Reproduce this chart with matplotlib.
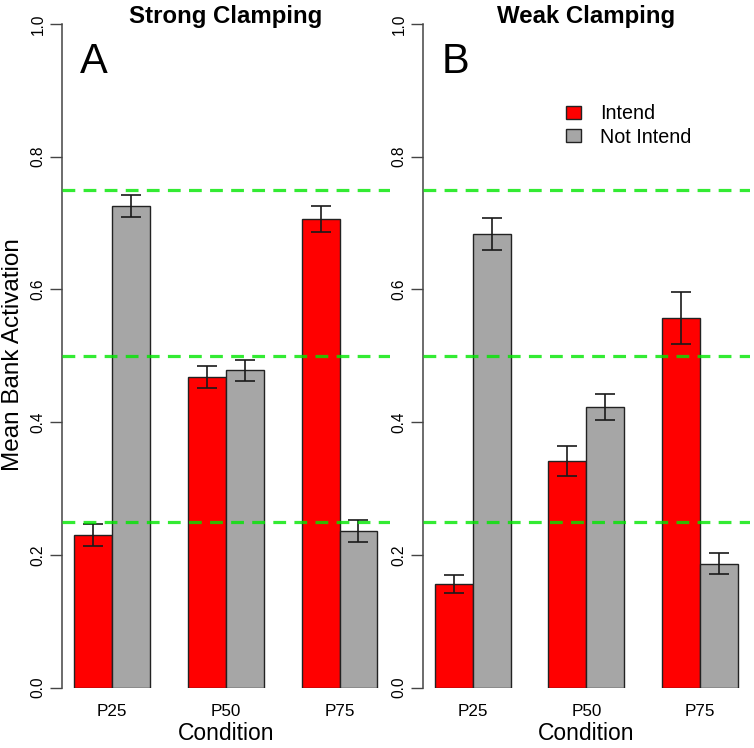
import matplotlib
matplotlib.use("Agg")
import matplotlib.pyplot as plt
from matplotlib.patches import Patch

plt.rcParams['font.family'] = ['Liberation Sans', 'DejaVu Sans']

conditions = ["P25", "P50", "P75"]
series = ["Intend", "Not Intend"]
colors = ["#ff0000", "#a6a6a6"]

# mean bank activation and error, per panel
strong_intend = [0.230, 0.468, 0.706]
strong_not = [0.726, 0.478, 0.236]
strong_intend_err = [0.0165, 0.016, 0.020]
strong_not_err = [0.017, 0.016, 0.016]

weak_intend = [0.156, 0.342, 0.557]
weak_not = [0.684, 0.423, 0.187]
weak_intend_err = [0.0135, 0.0225, 0.0385]
weak_not_err = [0.024, 0.019, 0.0155]

ref_lines = [0.25, 0.50, 0.75]
titles = ["Strong Clamping", "Weak Clamping"]
letters = ["A", "B"]

W, H = 754, 748
fig = plt.figure(figsize=(W / 100, H / 100), dpi=100)

y0_px, y1_px = 687.7, 24.0   # pixel rows of 0.0 and 1.0
panels = [(61.7, 389.6), (422.7, 750.0)]

data = [(strong_intend, strong_not, strong_intend_err, strong_not_err),
        (weak_intend, weak_not, weak_intend_err, weak_not_err)]

for p, (left_px, right_px) in enumerate(panels):
    ax = fig.add_axes([left_px / W, 1 - y0_px / H,
                       (right_px - left_px) / W, (y0_px - y1_px) / H])
    a, b, ea, eb = data[p]
    # R barplot style: groups of two unit bars, one unit gap
    xa = [1 + 3 * i for i in range(len(conditions))]
    xb = [x + 1 for x in xa]
    ax.bar(xa, a, width=1, align='edge', color=colors[0], edgecolor='#222222', linewidth=1.0, zorder=2)
    ax.bar(xb, b, width=1, align='edge', color=colors[1], edgecolor='#222222', linewidth=1.0, zorder=2)
    ax.errorbar([x + 0.5 for x in xa], a, yerr=ea, fmt='none', ecolor='#1a1a1a',
                elinewidth=1.2, capsize=7, capthick=1.2, zorder=3)
    ax.errorbar([x + 0.5 for x in xb], b, yerr=eb, fmt='none', ecolor='#1a1a1a',
                elinewidth=1.2, capsize=7, capthick=1.2, zorder=3)
    for r in ref_lines:
        ax.axhline(r, color='#00e600', alpha=0.8, lw=2.3, dashes=(4, 2.6), zorder=4)

    ax.set_xlim(0.68, 9.32)
    ax.set_ylim(0, 1)
    for s in ['top', 'right', 'bottom']:
        ax.spines[s].set_visible(False)
    ax.spines['left'].set_bounds(0, 1)
    ax.spines['left'].set_color('#444444')
    ax.spines['left'].set_linewidth(1.1)

    ax.set_yticks([0, 0.2, 0.4, 0.6, 0.8, 1.0])
    ax.set_yticklabels(["0.0", "0.2", "0.4", "0.6", "0.8", "1.0"])
    ax.tick_params(axis='y', length=8.6, width=1.0, color='#444444', labelsize=11.2,
                   labelrotation=90, pad=3)
    for t in ax.get_yticklabels():
        t.set_va('center')

    ax.set_xticks([x + 1 for x in xa])
    ax.set_xticklabels(conditions)
    ax.tick_params(axis='x', length=0, labelsize=12.3, pad=12)

    ax.set_xlabel("Condition", fontsize=16.5)
    ax.xaxis.set_label_coords(0.5, -0.052)

    ax.text(0.5 * (left_px + right_px) / W, 1 - 23 / H, titles[p], transform=fig.transFigure,
            ha='center', va='baseline', fontsize=17.3, fontweight='bold')
    ax.text((left_px + 18.5) / W, 1 - 73 / H, letters[p], transform=fig.transFigure,
            ha='left', va='baseline', fontsize=30)

    if p == 1:
        handles = [Patch(facecolor=c, edgecolor='#222222', linewidth=1.0) for c in colors]
        ax.legend(handles, series, loc='upper left', bbox_to_anchor=(0.438, 0.879),
                  frameon=False, fontsize=14.2, handlelength=0.76, handleheight=0.66,
                  handletextpad=0.96, labelspacing=0.22, borderpad=0, borderaxespad=0)

fig.text(13 / W, 1 - 355 / H, "Mean Bank Activation", rotation=90,
         ha='center', va='center', fontsize=17.5)

fig.savefig("out.png", dpi=100)
